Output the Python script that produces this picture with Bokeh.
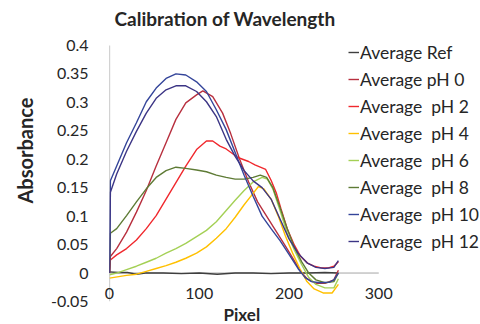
from bokeh.plotting import figure
from bokeh.models import Range1d, FixedTicker, Legend, LegendItem, Title
from bokeh.embed import file_html
from bokeh.resources import INLINE

title_text = "Calibration of Wavelength"
x_label = "Pixel"
y_label = "Absorbance"
x_ticks = [0, 100, 200, 300]
y_ticks = [-0.05, 0, 0.05, 0.1, 0.15, 0.2, 0.25, 0.3, 0.35, 0.4]
y_tick_labels = ["-0.05", "0", "0.05", "0.1", "0.15", "0.2", "0.25", "0.3", "0.35", "0.4"]

series_names = ["Average Ref", "Average pH 0", "Average  pH 2", "Average  pH 4",
                "Average  pH 6", "Average  pH 8", "Average  pH 10", "Average  pH 12"]
series_colors = ["#3F3F3F", "#B8303F", "#F0282D", "#FFC000",
                 "#A4D055", "#5E7B35", "#34459A", "#3C3585"]

ref_x = [0, 10, 20, 30, 40, 60, 80, 100, 120, 140, 160, 180, 200, 220, 240, 255]
ref_y = [0.002, 0.001, 0.001, -0.002, 0.0, 0.0, -0.001, 0.0, -0.002, 0.0, 0.0, -0.001, 0.0, 0.0, 0.001, 0.0]

ph0_x = [0, 1, 8, 19, 30, 41, 52, 63, 74, 85, 97, 104, 115, 126, 135, 145, 155, 165, 175, 185, 195, 205, 212, 220, 230, 240, 250, 255]
ph0_y = [0.0, 0.029, 0.043, 0.072, 0.107, 0.145, 0.188, 0.229, 0.27, 0.299, 0.313, 0.32, 0.31, 0.281, 0.245, 0.2, 0.16, 0.125, 0.1, 0.075, 0.05, 0.024, 0.005, -0.01, -0.018, -0.018, -0.012, 0.005]

ph2_x = [0, 1, 8, 19, 30, 41, 52, 63, 74, 85, 97, 108, 115, 123, 130, 143, 155, 162, 174, 180, 186, 191, 198, 206, 213, 221, 228, 236, 244, 250, 255]
ph2_y = [0.0, 0.023, 0.032, 0.043, 0.058, 0.078, 0.101, 0.13, 0.159, 0.188, 0.217, 0.232, 0.232, 0.223, 0.218, 0.203, 0.196, 0.19, 0.182, 0.163, 0.14, 0.113, 0.078, 0.049, 0.029, 0.017, 0.012, 0.009, 0.009, 0.012, 0.02]

ph4_x = [0, 19, 30, 41, 52, 63, 74, 85, 97, 108, 119, 130, 140, 150, 160, 166, 172, 180, 188, 196, 204, 212, 220, 228, 238, 248, 255]
ph4_y = [-0.009, -0.004, -0.002, 0.003, 0.008, 0.013, 0.019, 0.026, 0.035, 0.046, 0.061, 0.078, 0.098, 0.12, 0.14, 0.152, 0.148, 0.13, 0.1, 0.065, 0.035, 0.008, -0.015, -0.028, -0.035, -0.035, -0.02]

ph6_x = [0, 8, 19, 30, 41, 52, 63, 74, 85, 97, 108, 119, 130, 140, 150, 160, 170, 176, 182, 190, 198, 206, 214, 222, 230, 240, 250, 255]
ph6_y = [-0.003, 0.0, 0.006, 0.012, 0.019, 0.026, 0.035, 0.043, 0.052, 0.064, 0.075, 0.09, 0.11, 0.128, 0.145, 0.16, 0.168, 0.165, 0.148, 0.11, 0.07, 0.04, 0.015, -0.008, -0.02, -0.026, -0.026, -0.01]

ph8_x = [0, 1, 8, 19, 30, 41, 52, 63, 74, 85, 97, 108, 119, 130, 140, 150, 160, 168, 175, 182, 190, 198, 206, 214, 222, 230, 240, 250, 255]
ph8_y = [0.0, 0.07, 0.078, 0.101, 0.125, 0.148, 0.168, 0.18, 0.186, 0.184, 0.181, 0.178, 0.172, 0.168, 0.165, 0.165, 0.168, 0.172, 0.168, 0.15, 0.115, 0.078, 0.045, 0.02, 0.0, -0.012, -0.017, -0.015, 0.0]

ph10_x = [0, 1, 8, 19, 30, 41, 52, 63, 74, 85, 97, 108, 119, 130, 140, 150, 160, 170, 180, 190, 200, 210, 218, 225, 235, 245, 250, 255]
ph10_y = [0.0, 0.162, 0.188, 0.229, 0.264, 0.301, 0.325, 0.342, 0.35, 0.348, 0.336, 0.319, 0.287, 0.252, 0.212, 0.172, 0.135, 0.1, 0.078, 0.057, 0.033, 0.008, -0.008, -0.015, -0.017, -0.016, -0.012, 0.0]

ph12_x = [0, 1, 8, 19, 30, 41, 52, 63, 74, 85, 97, 108, 119, 130, 140, 150, 160, 170, 180, 190, 200, 210, 220, 230, 240, 250, 255]
ph12_y = [0.0, 0.142, 0.174, 0.214, 0.249, 0.281, 0.307, 0.322, 0.329, 0.329, 0.319, 0.301, 0.275, 0.235, 0.205, 0.18, 0.162, 0.15, 0.13, 0.095, 0.06, 0.035, 0.018, 0.01, 0.008, 0.01, 0.022]

series_x = [ref_x, ph0_x, ph2_x, ph4_x, ph6_x, ph8_x, ph10_x, ph12_x]
series_y = [ref_y, ph0_y, ph2_y, ph4_y, ph6_y, ph8_y, ph10_y, ph12_y]

FONT = "Lato"
TXT = "#262626"
AXIS_GREY = "#A6A6A6"

# The frame is a little larger than the 0..300 / -0.05..0.4 axes so that the
# legend (right of the data, level with the top) is not clipped; both axis
# lines are drawn only over the tick span as in the reference.
p = figure(width=480, height=324, output_backend="svg", toolbar_location=None,
           x_range=Range1d(0, 300 * 372 / 270), y_range=Range1d(-0.05, 0.4 + 13 / 573.3),
           min_border_left=108, min_border_right=0, min_border_top=32, min_border_bottom=21)
p.outline_line_color = None
p.xgrid.visible = False
p.ygrid.visible = False

p.title.text = title_text
p.title.text_font = FONT
p.title.text_font_size = "19px"
p.title.text_font_style = "bold"
p.title.text_color = TXT
p.title.align = "left"
p.title.offset = 5
p.title.standoff = 6

# x axis
xa = p.xaxis[0]
xa.ticker = FixedTicker(ticks=x_ticks)
xa.axis_line_color = None
xa.major_tick_line_color = None
xa.minor_tick_line_color = None
xa.major_tick_out = 0
xa.major_label_standoff = -14
xa.major_label_text_font = FONT
xa.major_label_text_font_size = "16px"
xa.major_label_text_color = TXT

# y axis
ya = p.yaxis[0]
ya.ticker = FixedTicker(ticks=y_ticks)
ya.major_label_overrides = {t: l for t, l in zip(y_ticks, y_tick_labels)}
ya.axis_line_color = None
ya.major_tick_line_color = None
ya.minor_tick_line_color = None
ya.major_tick_out = 0
ya.major_label_standoff = 21
ya.major_label_text_font = FONT
ya.major_label_text_font_size = "16px"
ya.major_label_text_color = TXT

# axis titles as side titles (so they can sit off-centre like the reference)
p.add_layout(Title(text=y_label, align="left", offset=98, standoff=21,
                   text_font=FONT, text_font_size="20px", text_font_style="bold",
                   text_color=TXT), "left")
p.add_layout(Title(text=x_label, align="left", offset=114, standoff=0,
                   text_font=FONT, text_font_size="17px", text_font_style="bold",
                   text_color=TXT), "below")

# axis lines over the tick spans
p.line([x_ticks[0], x_ticks[-1]], [0, 0], line_color=AXIS_GREY, line_width=1)
p.line([x_ticks[0], x_ticks[0]], [y_ticks[0], y_ticks[-1]], line_color=AXIS_GREY, line_width=1.2)

items = []
for name, color, xs, ys in zip(series_names, series_colors, series_x, series_y):
    r = p.line(xs, ys, line_color=color, line_width=1.4)
    items.append(LegendItem(label=name, renderers=[r]))

legend = Legend(items=items, location=(239, 49))
legend.background_fill_alpha = 0
legend.border_line_color = None
legend.padding = 0
legend.margin = 0
legend.spacing = 5
legend.glyph_width = 11
legend.glyph_height = 22
legend.label_height = 22
legend.label_standoff = 1
legend.label_text_font = FONT
legend.label_text_font_size = "17.5px"
legend.label_text_color = TXT
p.add_layout(legend)

open("out.html", "w").write(file_html(p, INLINE))
